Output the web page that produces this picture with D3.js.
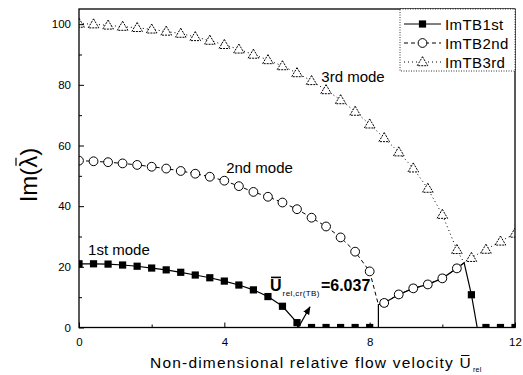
<!DOCTYPE html>
<html>
<head>
<meta charset="utf-8">
<script src="https://cdn.jsdelivr.net/npm/d3@7/dist/d3.min.js"></script>
<style>
  html, body { margin: 0; padding: 0; background: #fff; }
  svg { display: block; font-family: "Liberation Sans", Arial, sans-serif; }
</style>
</head>
<body>
<svg id="chart" width="523" height="375"></svg>
<script>
// Imaginary parts of the eigenvalues of the first three modes
const seriesNames = ["ImTB1st", "ImTB2nd", "ImTB3rd"];

const firstX = [0, 0.4, 0.8, 1.2, 1.6, 2.0, 2.4, 2.8, 3.2, 3.6, 4.0, 4.4, 4.8, 5.2, 5.6, 6.0, 6.037,
                6.4, 6.8, 7.2, 7.6, 8.0, 8.24, 8.24, 8.4, 8.8, 9.2, 9.6, 10.0, 10.4, 10.6, 10.8, 10.96,
                11.2, 11.6, 12.0];
const firstY = [21.0, 21.0, 20.9, 20.6, 20.2, 19.6, 19.0, 18.2, 17.3, 16.4, 15.3, 14.0, 12.4, 10.2, 7.0, 1.6, 0,
                0, 0, 0, 0, 0, 0, 7.5, 8.1, 10.9, 12.9, 14.2, 16.2, 19.5, 21.3, 10.8, 0,
                0, 0, 0];

const secondX = [0, 0.4, 0.8, 1.2, 1.6, 2.0, 2.4, 2.8, 3.2, 3.6, 4.0, 4.4, 4.8, 5.2, 5.6, 6.0, 6.4,
                 6.8, 7.2, 7.6, 8.0, 8.24, 8.4, 8.8, 9.2, 9.6, 10.0, 10.4, 10.6];
const secondY = [55.0, 54.8, 54.5, 54.1, 53.6, 53.0, 52.4, 51.6, 50.7, 49.7, 48.4, 46.6, 44.7, 43.1, 41.2, 39.0, 36.2,
                 33.3, 29.7, 25.0, 18.5, 7.5, 8.1, 10.9, 12.9, 14.2, 16.2, 19.5, 21.3];

const thirdX = [0, 0.4, 0.8, 1.2, 1.6, 2.0, 2.4, 2.8, 3.2, 3.6, 4.0, 4.4, 4.8, 5.2, 5.6, 6.0, 6.4,
                6.8, 7.2, 7.6, 8.0, 8.4, 8.8, 9.2, 9.6, 10.0, 10.4, 10.6, 10.8, 11.2, 11.6, 12.0];
const thirdY = [100.2, 100.0, 99.6, 99.2, 98.8, 98.3, 97.6, 96.9, 95.8, 94.6, 93.2, 91.7, 90.0, 88.2, 86.2, 83.9, 81.3,
                78.3, 75.0, 71.2, 67.0, 62.5, 57.8, 52.5, 45.8, 37.2, 25.6, 21.3, 23.0, 25.7, 28.4, 31.0];

const xTicks = [0, 4, 8, 12];
const xMinorTicks = [2, 6, 10];
const yTicks = [0, 20, 40, 60, 80, 100];
const yMinorTicks = [10, 30, 50, 70, 90];

const modeLabels = [
  { text: "1st mode", x: 0.25, y: 23.9 },
  { text: "2nd mode", x: 4.05, y: 50.9 },
  { text: "3rd mode", x: 6.67, y: 80.9 }
];
const critical = 6.037;

const svg = d3.select("#chart");
const plotLeft = 79, plotRight = 515, plotTop = 9, plotBottom = 327.5;

const x = d3.scaleLinear().domain([0, 12]).range([plotLeft, plotRight]);
const y = d3.scaleLinear().domain([0, 105]).range([plotBottom, plotTop]);

const defs = svg.append("defs");
defs.append("clipPath").attr("id", "plotClip")
  .append("rect").attr("x", plotLeft).attr("y", plotTop)
  .attr("width", plotRight - plotLeft).attr("height", plotBottom - plotTop);

const series = [
  { name: seriesNames[0], xs: firstX, ys: firstY, dash: null, marker: "square" },
  { name: seriesNames[1], xs: secondX, ys: secondY, dash: "4,3", marker: "circle" },
  { name: seriesNames[2], xs: thirdX, ys: thirdY, dash: "1,3", marker: "triangle" }
];

// symbols are placed every 0.4 along the velocity axis
const onGrid = v => Math.abs(v / 0.4 - Math.round(v / 0.4)) < 1e-6;

function drawMarker(g, type, cx, cy) {
  if (type === "square") {
    g.append("rect").attr("x", cx - 3.6).attr("y", cy - 3.6).attr("width", 7.2).attr("height", 7.2)
      .attr("fill", "#000");
  } else if (type === "circle") {
    g.append("circle").attr("cx", cx).attr("cy", cy).attr("r", 4.4)
      .attr("fill", "#fff").attr("stroke", "#000").attr("stroke-width", 1);
  } else {
    const s = 5.3;
    g.append("path")
      .attr("d", `M${cx},${cy - s}L${cx + s},${cy + s * 0.7}L${cx - s},${cy + s * 0.7}Z`)
      .attr("fill", "#fff").attr("stroke", "#000").attr("stroke-width", 1).attr("stroke-dasharray", "2,1");
  }
}

const plot = svg.append("g").attr("clip-path", "url(#plotClip)");
const line = d3.line().x(d => x(d[0])).y(d => y(d[1]));

series.forEach(s => {
  const pts = s.xs.map((v, i) => [v, s.ys[i]]);
  plot.append("path").datum(pts).attr("d", line)
    .attr("fill", "none").attr("stroke", "#000").attr("stroke-width", s.dash ? 1 : 1.2)
    .attr("stroke-dasharray", s.dash);
  const mg = plot.append("g");
  pts.filter(p => onGrid(p[0])).forEach(p => drawMarker(mg, s.marker, x(p[0]), y(p[1])));
});

// frame
svg.append("rect").attr("x", plotLeft).attr("y", plotTop)
  .attr("width", plotRight - plotLeft).attr("height", plotBottom - plotTop)
  .attr("fill", "none").attr("stroke", "#000").attr("stroke-width", 1.3);

// axes with inward ticks
svg.append("g").attr("transform", `translate(0,${plotBottom})`)
  .call(d3.axisBottom(x).tickValues(xTicks).tickSize(-5).tickPadding(10).tickFormat(d3.format("d")));
svg.append("g").attr("transform", `translate(0,${plotBottom})`)
  .call(d3.axisBottom(x).tickValues(xMinorTicks).tickSize(-3).tickFormat(""));
svg.append("g").attr("transform", `translate(${plotLeft},0)`)
  .call(d3.axisLeft(y).tickValues(yTicks).tickSize(-5).tickPadding(8).tickFormat(d3.format("d")));
svg.append("g").attr("transform", `translate(${plotLeft},0)`)
  .call(d3.axisLeft(y).tickValues(yMinorTicks).tickSize(-3).tickFormat(""));
svg.selectAll(".domain").remove();
svg.selectAll(".tick line").attr("stroke", "#000");
svg.selectAll(".tick text").attr("font-size", 11.5).attr("fill", "#000")
  .attr("font-family", "Liberation Sans, Arial, sans-serif");

// mode labels
modeLabels.forEach(l => {
  svg.append("text").attr("x", x(l.x)).attr("y", y(l.y)).attr("font-size", 15).text(l.text);
});

// critical velocity annotation
const ux = x(critical);
defs.append("marker").attr("id", "arrowHead").attr("viewBox", "0 0 10 10").attr("refX", 9).attr("refY", 5)
  .attr("markerWidth", 7).attr("markerHeight", 7).attr("orient", "auto")
  .append("path").attr("d", "M0,1L10,5L0,9Z").attr("fill", "#000");
svg.append("line").attr("x1", ux).attr("y1", y(0)).attr("x2", x(critical + 0.32)).attr("y2", y(6.8))
  .attr("stroke", "#000").attr("stroke-width", 1.2).attr("marker-end", "url(#arrowHead)");
const annX = x(critical - 0.78), annY = y(11.9);
const ann = svg.append("text").attr("x", annX).attr("y", annY);
ann.append("tspan").attr("font-size", 16).attr("font-weight", "bold").text("U");
ann.append("tspan").attr("font-size", 8).attr("dy", 5).attr("dx", 1).attr("letter-spacing", 0.4).text("rel,cr(TB)");
ann.append("tspan").attr("font-size", 16).attr("font-weight", "bold").attr("dy", -5).attr("dx", 1)
  .text("=" + critical.toFixed(3));
svg.append("line").attr("x1", annX + 1).attr("x2", annX + 11)
  .attr("y1", annY - 14).attr("y2", annY - 14).attr("stroke", "#000").attr("stroke-width", 1.6);

// axis titles
const xPrefix = "Non-dimensional relative flow velocity ";
const xt = svg.append("text").attr("x", 150).attr("y", 368).attr("font-size", 15.5)
  .attr("letter-spacing", 1.2);
xt.append("tspan").text(xPrefix);
xt.append("tspan").text("U");
xt.append("tspan").attr("font-size", 7).attr("dy", 4).attr("dx", 1).attr("letter-spacing", 0.3).text("rel");
{
  // bar over the velocity symbol
  const ext = xt.node().getExtentOfChar(xPrefix.length);
  svg.append("line").attr("x1", ext.x + 1.5).attr("x2", ext.x + ext.width - 2.5)
    .attr("y1", ext.y + 1.5).attr("y2", ext.y + 1.5).attr("stroke", "#000").attr("stroke-width", 1);
}

const yl = svg.append("text").attr("transform", "translate(37,175) rotate(-90)").attr("text-anchor", "middle")
  .attr("font-size", 24).text("Im(\u03BB)");
{
  // bar over lambda
  const ext = yl.node().getExtentOfChar(3);
  const x0 = ext.x + 2, x1 = ext.x + ext.width - 2, yy = ext.y + 1;
  svg.append("line").attr("transform", "translate(37,175) rotate(-90)")
    .attr("x1", x0).attr("x2", x1).attr("y1", yy).attr("y2", yy)
    .attr("stroke", "#000").attr("stroke-width", 1.2);
}

// legend
const lg = svg.append("g");
lg.append("rect").attr("x", 400).attr("y", 9).attr("width", 115).attr("height", 62)
  .attr("fill", "#fff").attr("stroke", "#000").attr("stroke-width", 0.8).attr("stroke-dasharray", "1,1.5");
series.forEach((s, i) => {
  const ly = 24 + i * 19;
  lg.append("line").attr("x1", 404).attr("x2", 441).attr("y1", ly).attr("y2", ly)
    .attr("stroke", "#000").attr("stroke-width", 1).attr("stroke-dasharray", s.dash);
  drawMarker(lg, s.marker, 422.5, ly);
  lg.append("text").attr("x", 445).attr("y", ly + 5.5).attr("font-size", 15).attr("letter-spacing", 0.4)
    .text(s.name);
});
</script>
</body>
</html>
